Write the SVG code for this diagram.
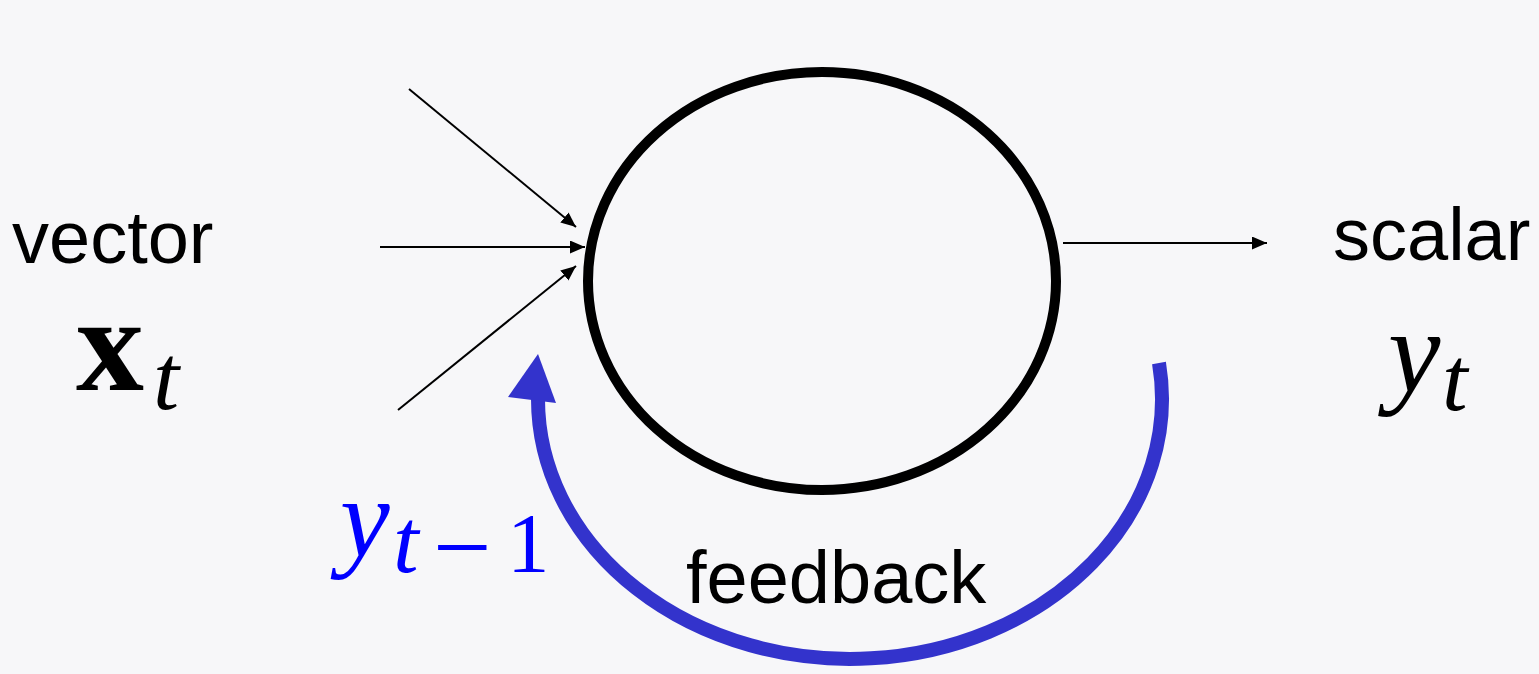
<svg xmlns="http://www.w3.org/2000/svg" width="1539" height="674" viewBox="0 0 1539 674">
<defs>
<style>
.lbl{font-family:"Liberation Sans",Arial,sans-serif;font-size:74px;fill:#000}
.m{font-family:"Liberation Serif","Times New Roman",serif}
.it{font-style:italic}
.con{stroke:#000;stroke-width:2;fill:none}
</style>
<marker id="ah" markerUnits="userSpaceOnUse" markerWidth="16" markerHeight="14" refX="15" refY="6.5" orient="auto">
<path d="M0,0 L15,6.5 L0,13 z" fill="#000"/>
</marker>
</defs>
<rect width="1539" height="674" fill="#f7f7f9"/>
<g id="neuron">
<ellipse cx="822" cy="281" rx="234" ry="209" fill="none" stroke="#000" stroke-width="10"/>
</g>
<g id="connectors">
<line class="con" x1="409" y1="89" x2="576" y2="227" marker-end="url(#ah)"/>
<line class="con" x1="380" y1="247" x2="585" y2="247" marker-end="url(#ah)"/>
<line class="con" x1="398" y1="410" x2="576" y2="266" marker-end="url(#ah)"/>
<line class="con" x1="1063" y1="243" x2="1267" y2="243" marker-end="url(#ah)"/>
<path d="M1159,363 A312,260 0 1 1 538,398" fill="none" stroke="#3333cc" stroke-width="14"/>
<polygon points="538,354 508,397 556,403" fill="#3333cc"/>
</g>
<g id="input">
<text class="lbl" x="12" y="263">vector</text>
<text class="m" x="76" y="390" font-size="136" font-weight="bold">x</text>
<text class="m it" x="153" y="409" font-size="94">t</text>
</g>
<g id="output">
<text class="lbl" x="1333" y="260">scalar</text>
<text class="m it" x="1388" y="392" font-size="118">y</text>
<text class="m it" x="1442" y="410" font-size="92">t</text>
</g>
<g id="feedback-label">
<text class="lbl" x="686" y="603">feedback</text>
<g fill="#0000ff">
<text class="m it" x="340" y="556" font-size="112">y</text>
<text class="m it" x="393" y="572" font-size="92">t</text>
<text class="m" x="433" y="582" font-size="104">−</text>
<text class="m" x="507" y="572" font-size="85">1</text>
</g>
</g>
</svg>
